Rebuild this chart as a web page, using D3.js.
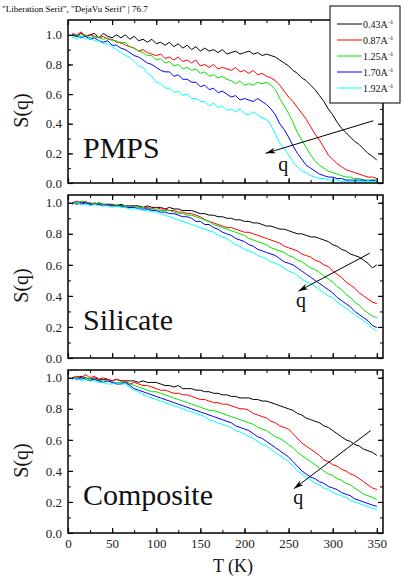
<!DOCTYPE html>
<html>
<head>
<script src="https://cdnjs.cloudflare.com/ajax/libs/d3/7.8.5/d3.min.js"></script>
<style>
  body { margin: 0; background: #fff; }
</style>
</head>
<body>
<div id="vis"></div>
<script>
const temps = [5,10,15,20,25,30,35,40,45,50,55,60,65,70,75,80,85,90,95,100,
  105,110,115,120,125,130,135,140,145,150,155,160,165,170,175,180,185,190,195,200,
  205,210,215,220,225,230,235,240,245,250,255,260,265,270,275,280,285,290,295,300,
  305,310,315,320,325,330,335,340,345,350];

const qLabels = ["0.43", "0.87", "1.25", "1.70", "1.92"];
const colors = ["#000000", "#ff0000", "#00e600", "#0000ff", "#00ffff"];
const panelNames = ["PMPS", "Silicate", "Composite"];
const xTicks = [0, 50, 100, 150, 200, 250, 300, 350];
const yTicks = [0, 0.2, 0.4, 0.6, 0.8, 1.0];

const pmps = [
  [1.00,0.99,1.01,0.99,1.00,1.01,0.98,1.01,0.99,0.98,1.00,0.98,1.00,0.97,0.99,0.96,0.97,0.95,0.97,0.94,
   0.95,0.93,0.95,0.92,0.94,0.91,0.93,0.90,0.92,0.89,0.91,0.89,0.90,0.88,0.90,0.87,0.88,0.89,0.87,0.88,
   0.89,0.87,0.88,0.86,0.87,0.86,0.85,0.83,0.81,0.79,0.76,0.74,0.71,0.69,0.66,0.63,0.59,0.55,0.50,0.46,
   0.41,0.37,0.34,0.31,0.28,0.26,0.23,0.20,0.18,0.155],
  [1.01,1.00,1.02,0.99,1.00,0.99,0.98,0.99,0.97,0.97,0.95,0.95,0.93,0.92,0.91,0.89,0.90,0.88,0.87,0.86,
   0.87,0.84,0.85,0.83,0.85,0.82,0.83,0.81,0.83,0.79,0.80,0.78,0.80,0.77,0.78,0.77,0.76,0.78,0.75,0.76,
   0.74,0.76,0.73,0.74,0.72,0.71,0.69,0.66,0.62,0.58,0.55,0.51,0.47,0.43,0.38,0.33,0.29,0.24,0.19,0.16,
   0.13,0.11,0.09,0.08,0.07,0.06,0.05,0.04,0.04,0.03],
  [0.98,1.00,0.99,1.00,0.98,0.99,0.98,0.97,0.98,0.96,0.96,0.94,0.95,0.92,0.91,0.89,0.88,0.86,0.86,0.83,
   0.84,0.81,0.82,0.79,0.80,0.77,0.78,0.76,0.77,0.74,0.75,0.72,0.73,0.71,0.72,0.70,0.69,0.67,0.69,0.66,
   0.67,0.66,0.68,0.67,0.68,0.66,0.63,0.57,0.52,0.47,0.41,0.34,0.29,0.24,0.19,0.15,0.12,0.10,0.08,0.07,
   0.06,0.05,0.04,0.04,0.03,0.03,0.02,0.02,0.02,0.02],
  [1.00,0.99,0.98,0.99,0.97,0.98,0.96,0.95,0.96,0.93,0.93,0.91,0.90,0.88,0.86,0.85,0.83,0.81,0.80,0.78,
   0.76,0.75,0.75,0.72,0.73,0.70,0.70,0.68,0.68,0.65,0.66,0.63,0.64,0.61,0.62,0.60,0.58,0.59,0.56,0.57,
   0.56,0.55,0.57,0.55,0.53,0.50,0.46,0.40,0.36,0.31,0.25,0.20,0.16,0.12,0.10,0.08,0.06,0.05,0.04,0.04,
   0.03,0.03,0.02,0.02,0.02,0.02,0.02,0.01,0.02,0.01],
  [0.99,0.97,0.99,0.97,0.98,0.96,0.96,0.94,0.94,0.92,0.90,0.88,0.86,0.85,0.82,0.79,0.78,0.74,0.72,0.68,
   0.67,0.64,0.64,0.61,0.62,0.59,0.60,0.57,0.57,0.55,0.55,0.52,0.54,0.51,0.52,0.49,0.50,0.48,0.50,0.47,
   0.46,0.48,0.46,0.44,0.43,0.39,0.33,0.27,0.23,0.19,0.14,0.11,0.08,0.07,0.05,0.04,0.03,0.03,0.02,0.02,
   0.02,0.01,0.01,0.01,0.01,0.01,0.01,0.01,0.01,0.01]
];

const silicate = [
  [1.00,1.00,0.99,1.00,1.00,0.99,1.00,0.99,0.99,0.99,0.98,0.99,0.98,0.98,0.98,0.98,0.97,0.98,0.97,0.97,
   0.97,0.96,0.97,0.96,0.96,0.95,0.95,0.95,0.94,0.93,0.93,0.92,0.92,0.91,0.91,0.90,0.90,0.89,0.89,0.88,
   0.88,0.87,0.87,0.86,0.85,0.85,0.84,0.83,0.83,0.82,0.81,0.80,0.80,0.79,0.78,0.78,0.77,0.76,0.75,0.73,
   0.72,0.70,0.69,0.67,0.66,0.65,0.63,0.61,0.58,0.60],
  [1.00,1.01,1.00,1.01,0.99,1.00,0.99,0.99,0.98,0.99,0.98,0.98,0.98,0.97,0.98,0.97,0.97,0.97,0.96,0.97,
   0.96,0.96,0.95,0.95,0.94,0.94,0.93,0.93,0.92,0.91,0.89,0.88,0.87,0.86,0.85,0.84,0.84,0.83,0.82,0.81,
   0.81,0.80,0.79,0.78,0.77,0.76,0.75,0.74,0.72,0.71,0.70,0.69,0.67,0.66,0.65,0.63,0.62,0.60,0.59,0.56,
   0.54,0.52,0.49,0.47,0.45,0.42,0.40,0.38,0.36,0.35],
  [0.99,1.00,1.01,1.00,1.00,0.99,1.00,0.99,0.99,0.98,0.99,0.98,0.98,0.97,0.98,0.97,0.97,0.96,0.96,0.96,
   0.95,0.95,0.95,0.94,0.93,0.93,0.92,0.92,0.91,0.90,0.89,0.88,0.86,0.85,0.84,0.83,0.82,0.81,0.80,0.79,
   0.77,0.76,0.75,0.74,0.73,0.71,0.70,0.69,0.68,0.66,0.65,0.63,0.62,0.60,0.58,0.57,0.55,0.53,0.51,0.49,
   0.46,0.44,0.41,0.39,0.36,0.34,0.31,0.29,0.27,0.26],
  [1.00,0.99,1.00,1.00,0.99,0.99,0.99,0.98,0.99,0.98,0.98,0.98,0.97,0.97,0.97,0.96,0.96,0.96,0.95,0.95,
   0.94,0.94,0.93,0.93,0.92,0.91,0.91,0.90,0.88,0.88,0.86,0.86,0.84,0.83,0.81,0.80,0.79,0.77,0.76,0.75,
   0.73,0.72,0.70,0.69,0.68,0.67,0.66,0.64,0.62,0.61,0.60,0.58,0.56,0.54,0.52,0.50,0.48,0.46,0.44,0.42,
   0.39,0.37,0.35,0.33,0.30,0.28,0.26,0.24,0.21,0.195],
  [0.99,1.00,0.99,0.99,0.98,0.99,0.98,0.98,0.98,0.97,0.98,0.97,0.97,0.96,0.96,0.96,0.95,0.95,0.94,0.94,
   0.93,0.92,0.91,0.90,0.89,0.88,0.87,0.86,0.85,0.84,0.83,0.82,0.81,0.79,0.78,0.77,0.75,0.73,0.72,0.70,
   0.69,0.68,0.66,0.65,0.64,0.62,0.61,0.60,0.58,0.56,0.55,0.53,0.51,0.49,0.48,0.46,0.44,0.42,0.40,0.39,
   0.36,0.34,0.32,0.30,0.28,0.26,0.24,0.22,0.19,0.175]
];

const composite = [
  [1.00,1.00,1.01,1.00,0.99,1.00,0.99,0.99,0.99,0.98,0.99,0.98,0.98,0.98,0.98,0.97,0.98,0.97,0.97,0.97,
   0.96,0.95,0.95,0.94,0.95,0.93,0.93,0.93,0.92,0.92,0.91,0.91,0.90,0.90,0.89,0.89,0.88,0.88,0.87,0.87,
   0.87,0.86,0.86,0.85,0.85,0.84,0.83,0.82,0.81,0.80,0.79,0.77,0.76,0.74,0.73,0.72,0.71,0.69,0.68,0.66,
   0.64,0.62,0.60,0.59,0.57,0.56,0.54,0.53,0.52,0.50],
  [1.00,1.01,1.00,1.02,1.00,1.01,0.99,1.00,0.99,0.98,0.99,0.98,0.98,0.96,0.97,0.96,0.95,0.95,0.94,0.93,
   0.92,0.92,0.91,0.90,0.90,0.89,0.89,0.88,0.87,0.86,0.86,0.85,0.84,0.84,0.83,0.83,0.82,0.81,0.80,0.80,
   0.79,0.77,0.76,0.75,0.74,0.72,0.71,0.69,0.68,0.67,0.64,0.61,0.58,0.56,0.54,0.52,0.50,0.47,0.46,0.44,
   0.43,0.41,0.40,0.38,0.37,0.35,0.33,0.31,0.29,0.28],
  [0.99,1.00,0.99,1.00,0.99,0.99,0.98,0.98,0.98,0.97,0.97,0.97,0.97,0.96,0.95,0.94,0.93,0.92,0.91,0.91,
   0.90,0.89,0.88,0.87,0.86,0.85,0.84,0.83,0.82,0.81,0.80,0.79,0.79,0.78,0.77,0.76,0.75,0.74,0.73,0.72,
   0.71,0.70,0.68,0.67,0.66,0.64,0.62,0.61,0.59,0.57,0.55,0.52,0.50,0.48,0.46,0.44,0.42,0.40,0.38,0.37,
   0.35,0.34,0.32,0.31,0.29,0.27,0.25,0.24,0.23,0.215],
  [1.00,0.99,1.00,0.99,0.98,0.99,0.98,0.97,0.98,0.97,0.96,0.96,0.97,0.95,0.93,0.92,0.91,0.90,0.89,0.88,
   0.87,0.86,0.85,0.84,0.83,0.82,0.81,0.80,0.79,0.78,0.77,0.76,0.75,0.74,0.73,0.72,0.71,0.69,0.68,0.67,
   0.66,0.64,0.62,0.61,0.59,0.57,0.55,0.53,0.51,0.49,0.46,0.43,0.40,0.38,0.36,0.35,0.33,0.32,0.30,0.29,
   0.28,0.26,0.25,0.24,0.22,0.21,0.20,0.19,0.18,0.172],
  [0.99,1.00,0.98,0.99,0.98,0.98,0.97,0.97,0.96,0.96,0.97,0.96,0.96,0.94,0.92,0.91,0.89,0.88,0.87,0.86,
   0.85,0.84,0.83,0.82,0.81,0.80,0.79,0.78,0.77,0.76,0.75,0.73,0.72,0.71,0.70,0.69,0.68,0.66,0.65,0.64,
   0.62,0.61,0.59,0.57,0.56,0.54,0.52,0.50,0.48,0.46,0.43,0.40,0.38,0.36,0.34,0.32,0.31,0.29,0.28,0.26,
   0.25,0.24,0.23,0.21,0.20,0.19,0.18,0.17,0.16,0.15]
];

const arrows = [
  { from: [346, 0.42], to: [224, 0.20], label: [244, 0.08] },
  { from: [342, 0.675], to: [261, 0.43], label: [264, 0.33] },
  { from: [343, 0.66], to: [256, 0.285], label: [261, 0.19] }
];

const w = 401, h = 581;
const left = 68, right = 383;
const panelTops = [20, 195, 370];
const panelH = 163;
const yMax = [1.1, 1.05, 1.05];
const datasets = [pmps, silicate, composite];
const serif = '"Liberation Serif", "DejaVu Serif"';

const svg = d3.select("#vis").append("svg")
  .attr("width", w).attr("height", h);

svg.append("defs").append("marker")
  .attr("id", "head")
  .attr("viewBox", "0 0 10 6")
  .attr("refX", 10).attr("refY", 3)
  .attr("markerWidth", 10).attr("markerHeight", 6)
  .attr("markerUnits", "userSpaceOnUse")
  .attr("orient", "auto")
  .append("path")
  .attr("d", "M0,0 L10,3 L0,6 L3,3 Z")
  .attr("fill", "#000");

const x = d3.scaleLinear().domain([0, 357]).range([left, right]);
const xMinor = d3.range(0, 357, 25);
const line = (y) => d3.line().x((d, i) => x(temps[i])).y(d => y(d));

function label(sel, size) {
  return sel.style("font-family", serif).style("font-size", size + "px").attr("fill", "#111");
}

let probe = null;

datasets.forEach((data, p) => {
  const top = panelTops[p], bottom = top + panelH;
  const y = d3.scaleLinear().domain([0, yMax[p]]).range([bottom, top]);
  const yMinor = d3.range(0, yMax[p], 0.1);
  const g = svg.append("g");

  data.forEach((series, k) => {
    g.append("path")
      .datum(series)
      .attr("fill", "none")
      .attr("stroke", colors[k])
      .attr("stroke-width", 1)
      .attr("d", line(y));
  });

  const axes = [
    [d3.axisBottom(x), `translate(0,${bottom})`, xTicks, xMinor],
    [d3.axisTop(x), `translate(0,${top})`, xTicks, xMinor],
    [d3.axisLeft(y), `translate(${left},0)`, yTicks, yMinor],
    [d3.axisRight(y), `translate(${right},0)`, yTicks, yMinor]
  ];
  axes.forEach(([ax, tr, major, minor], a) => {
    const showLabels = (a === 2) || (a === 0 && p === 2);
    g.append("g").attr("transform", tr)
      .call(ax.tickValues(minor).tickSize(-3).tickFormat(""))
      .call(s => s.select(".domain").remove());
    const axG = g.append("g").attr("transform", tr)
      .call(ax.tickValues(major).tickSize(-5).tickPadding(6)
        .tickFormat(showLabels ? (a === 2 ? d3.format(".1f") : d3.format("d")) : ""))
      .call(s => s.select(".domain").remove());
    axG.selectAll("line").attr("stroke", "#000").attr("stroke-width", 1.2);
    label(axG.selectAll("text"), 13).attr("fill", "#222");
  });

  g.append("rect")
    .attr("x", left).attr("y", top)
    .attr("width", right - left).attr("height", panelH)
    .attr("fill", "none").attr("stroke", "#000").attr("stroke-width", 1.5);

  label(g.append("text"), 20)
    .attr("transform", `translate(28,${(top + bottom) / 2 + 9}) rotate(-90)`)
    .attr("text-anchor", "middle")
    .text("S(q)");

  const nameText = label(g.append("text"), 30)
    .attr("x", x(17)).attr("y", y(p === 0 ? 0.17 : 0.18))
    .text(panelNames[p]);
  if (p === 0) probe = nameText.node();

  const ar = arrows[p];
  g.append("line")
    .attr("x1", x(ar.from[0])).attr("y1", y(ar.from[1]))
    .attr("x2", x(ar.to[0])).attr("y2", y(ar.to[1]))
    .attr("stroke", "#000").attr("stroke-width", 1)
    .attr("marker-end", "url(#head)");
  label(g.append("text"), 20)
    .attr("x", x(ar.label[0])).attr("y", y(ar.label[1]))
    .attr("text-anchor", "middle")
    .text("q");
});

label(svg.append("text"), 18)
  .attr("x", 233).attr("y", 572)
  .attr("text-anchor", "middle")
  .text("T (K)");

const lg = svg.append("g");
lg.append("rect")
  .attr("x", 330).attr("y", 6).attr("width", 70).attr("height", 97)
  .attr("fill", "#fff").attr("stroke", "#000").attr("stroke-width", 1);
qLabels.forEach((q, k) => {
  const ly = 24 + k * 16;
  lg.append("line")
    .attr("x1", 337).attr("x2", 362).attr("y1", ly).attr("y2", ly)
    .attr("stroke", colors[k]).attr("stroke-width", 1);
  const t = label(lg.append("text"), 10)
    .attr("x", 363).attr("y", ly + 3.5);
  t.append("tspan").text(q + "A");
  t.append("tspan").attr("dy", -4).style("font-size", "7px").text("-1");
});

// temporary font probe
svg.append("text").attr("x", 2).attr("y", 12).style("font-size", "9px")
  .text(getComputedStyle(probe).fontFamily + " | " + probe.getComputedTextLength().toFixed(1));
</script>
</body>
</html>
